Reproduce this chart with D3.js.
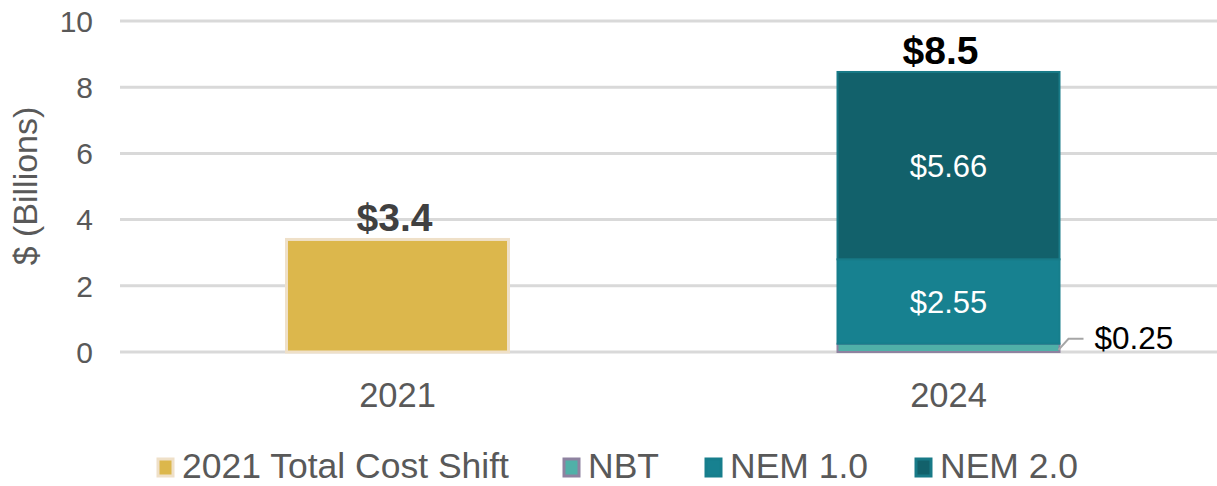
<!DOCTYPE html>
<html>
<head>
<meta charset="utf-8">
<script src="https://cdn.jsdelivr.net/npm/d3@7"></script>
<style>
  body { margin: 0; background: #fff; }
  text { font-family: "Liberation Sans", Arial, sans-serif; }
</style>
</head>
<body>
<div id="graph"></div>
<script>
let years = ['2021', '2024'];
let yTicks = [0, 2, 4, 6, 8, 10];
let seriesNames = ['2021 Total Cost Shift', 'NBT', 'NEM 1.0', 'NEM 2.0'];
let totalShift2021 = [3.4, 0];
let nbt = [0, 0.25];
let nem1 = [0, 2.55];
let nem2 = [0, 5.66];
let totalLabels = ['$3.4', '$8.5'];

let fills = ['#dcb74c', '#50b0a8', '#178190', '#12616b'];
let strokes = ['#efe0c8', '#8e82a0', '#177e8c', '#187a87'];

let width = 1217, height = 486;

// set the scales
let x = d3.scaleBand()
.domain(years)
.range([122, 1224]);
let y = d3.scaleLinear()
.domain([0, 10])
.range([352, 21]);
let barWidth = 222;

let svg = d3.select("#graph")
.append("svg")
.attr("width", width)
.attr("height", height);

// gridlines
svg.append("g")
.selectAll("line")
.data(yTicks)
.enter()
.append("line")
.attr("x1", 120)
.attr("x2", width)
.attr("y1", function (d) { return y(d); })
.attr("y2", function (d) { return y(d); })
.style("stroke", "#d9d9d9")
.style("stroke-width", 3);

// y tick labels
svg.append("g")
.selectAll("text")
.data(yTicks)
.enter()
.append("text")
.attr("x", 93)
.attr("y", function (d) { return y(d); })
.attr("dy", "0.36em")
.attr("text-anchor", "end")
.style("font-size", "30px")
.style("fill", "#595959")
.text(function (d) { return d; });

svg.append("text")
.attr("transform", "translate(37,186) rotate(-90)")
.attr("text-anchor", "middle")
.style("font-size", "34px")
.style("fill", "#595959")
.text("$ (Billions)");

// stack the series
let rows = years.map(function (yr, i) {
    return { year: yr, s0: totalShift2021[i], s1: nbt[i], s2: nem1[i], s3: nem2[i] };
});
let stacked = d3.stack().keys(['s0', 's1', 's2', 's3'])(rows);

stacked.forEach(function (layer, k) {
    svg.append("g")
    .selectAll("rect")
    .data(layer.filter(function (d) { return d[1] - d[0] > 0; }))
    .enter()
    .append("rect")
    .attr("x", function (d) { return x(d.data.year) + x.bandwidth() / 2 - barWidth / 2; })
    .attr("y", function (d) { return y(d[1]); })
    .attr("width", barWidth)
    .attr("height", function (d) { return y(d[0]) - y(d[1]); })
    .style("fill", fills[k])
    .style("stroke", strokes[k])
    .style("stroke-width", k == 0 ? 3 : 2);
});

// inner labels for the NEM segments
[stacked[2], stacked[3]].forEach(function (layer) {
    svg.append("g")
    .selectAll("text")
    .data(layer.filter(function (d) { return d[1] - d[0] > 0; }))
    .enter()
    .append("text")
    .attr("x", function (d) { return x(d.data.year) + x.bandwidth() / 2; })
    .attr("y", function (d) { return y((d[0] + d[1]) / 2); })
    .attr("dy", "0.36em")
    .attr("text-anchor", "middle")
    .style("font-size", "31px")
    .style("fill", "#ffffff")
    .text(function (d) { return '$' + (d[1] - d[0]).toFixed(2); });
});

// callout for NBT
let nbtX = x('2024') + x.bandwidth() / 2 + barWidth / 2;
let nbtY = y(nbt[1] / 2);
svg.append("path")
.attr("d", "M" + (nbtX - 1) + "," + (nbtY + 2) + " L" + (nbtX + 9) + "," + (nbtY - 9) + " H" + (nbtX + 24))
.style("fill", "none")
.style("stroke", "#a6a6a6")
.style("stroke-width", 2);
svg.append("text")
.attr("x", nbtX + 35)
.attr("y", nbtY - 10)
.attr("dy", "0.36em")
.style("font-size", "31.5px")
.style("fill", "#000")
.text('$' + nbt[1].toFixed(2));

// totals on top
svg.append("g")
.selectAll("text")
.data(rows)
.enter()
.append("text")
.attr("x", function (d, i) { return x(d.year) + x.bandwidth() / 2 - (i == 0 ? 3 : 8); })
.attr("y", function (d) { return y(d.s0 + d.s1 + d.s2 + d.s3) - 8; })
.attr("text-anchor", "middle")
.style("font-size", "39px")
.style("font-weight", "bold")
.style("fill", function (d, i) { return i == 0 ? "#404040" : "#000"; })
.text(function (d, i) { return totalLabels[i]; });

// category labels
svg.append("g")
.selectAll("text")
.data(years)
.enter()
.append("text")
.attr("x", function (d) { return x(d) + x.bandwidth() / 2; })
.attr("y", 407)
.attr("text-anchor", "middle")
.style("font-size", "34.5px")
.style("fill", "#595959")
.text(function (d) { return d; });

// legend
let legendX = [158, 564, 706, 916];
let legend = svg.append("g")
.selectAll("g")
.data(seriesNames)
.enter()
.append("g")
.attr("transform", function (d, i) { return "translate(" + legendX[i] + ",459)"; });
legend.append("rect")
.attr("width", 15)
.attr("height", 17)
.style("fill", function (d, i) { return fills[i]; })
.style("stroke", function (d, i) { return strokes[i]; })
.style("stroke-width", 3);
legend.append("text")
.attr("x", 24)
.attr("y", 19)
.style("font-size", "35.5px")
.style("fill", "#595959")
.text(function (d) { return d; });
</script>
</body>
</html>
